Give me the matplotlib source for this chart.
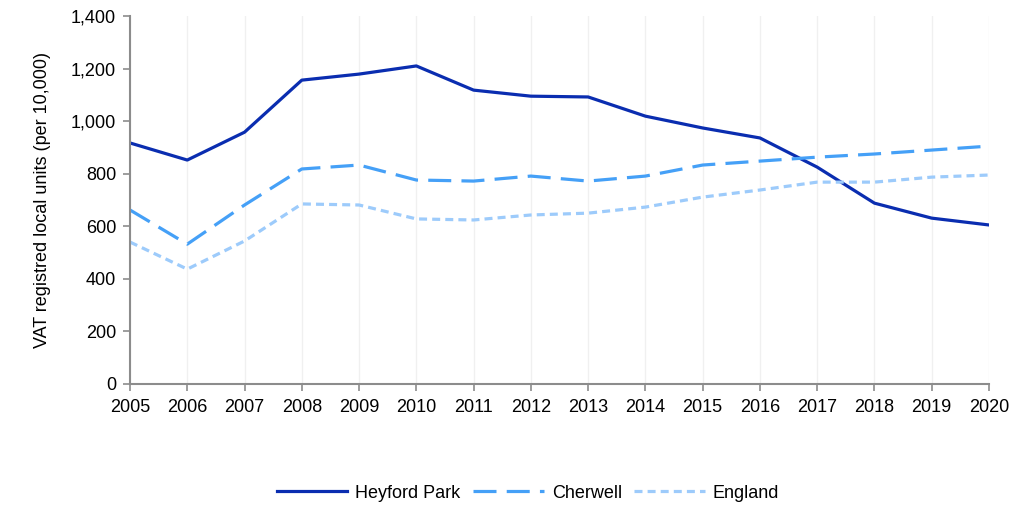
import matplotlib
matplotlib.use("Agg")
import matplotlib.pyplot as plt
from matplotlib.ticker import FuncFormatter

plt.rcParams['font.family'] = ['Liberation Sans', 'DejaVu Sans']

years = list(range(2005, 2021))
heyford_park = [917, 852, 958, 1156, 1179, 1210, 1118, 1095, 1092, 1019, 974, 936, 825, 688, 631, 605]
cherwell = [662, 532, 681, 818, 833, 776, 772, 791, 772, 791, 833, 848, 863, 875, 890, 905]
england = [540, 437, 544, 685, 681, 628, 624, 643, 650, 673, 711, 738, 768, 768, 787, 795]
y_ticks = [0, 200, 400, 600, 800, 1000, 1200, 1400]

fig = plt.figure(figsize=(10.27, 5.05), dpi=100)
ax = fig.add_axes([130/1027, 1-384/505, (989-130)/1027, (384-16)/505])

ax.plot(years, heyford_park, color='#0a2db0', lw=2.3, label='Heyford Park', solid_joinstyle='round')
ax.plot(years, cherwell, color='#45a0f7', lw=2.3, dashes=(7.2, 3.2), label='Cherwell')
ax.plot(years, england, color='#9dcbfb', lw=2.3, dashes=(2.5, 1.6), label='England')

ax.set_xlim(2005, 2020)
ax.set_ylim(0, 1400)
ax.set_xticks(years)
ax.set_yticks(y_ticks)
ax.yaxis.set_major_formatter(FuncFormatter(lambda v, p: f"{int(v):,}"))
ax.grid(axis='x', color='#f0f0f0', lw=1)
ax.set_axisbelow(True)
for s in ['top', 'right']:
    ax.spines[s].set_visible(False)
for s in ['left', 'bottom']:
    ax.spines[s].set_color('#8c8c8c')
    ax.spines[s].set_linewidth(1.5)
ax.tick_params(axis='both', colors='#8c8c8c', length=5, width=1.2, labelcolor='black', labelsize=13)
ax.tick_params(axis='x', pad=6)
ax.tick_params(axis='y', pad=5)
ax.set_ylabel('VAT registred local units (per 10,000)', fontsize=13, labelpad=14)

fig.legend(loc='center', bbox_to_anchor=(528/1027, 1-493/505), ncol=3, frameon=False,
           fontsize=13, handlelength=3.9, columnspacing=0.7, handletextpad=0.45)

fig.savefig('out.png', dpi=100)
